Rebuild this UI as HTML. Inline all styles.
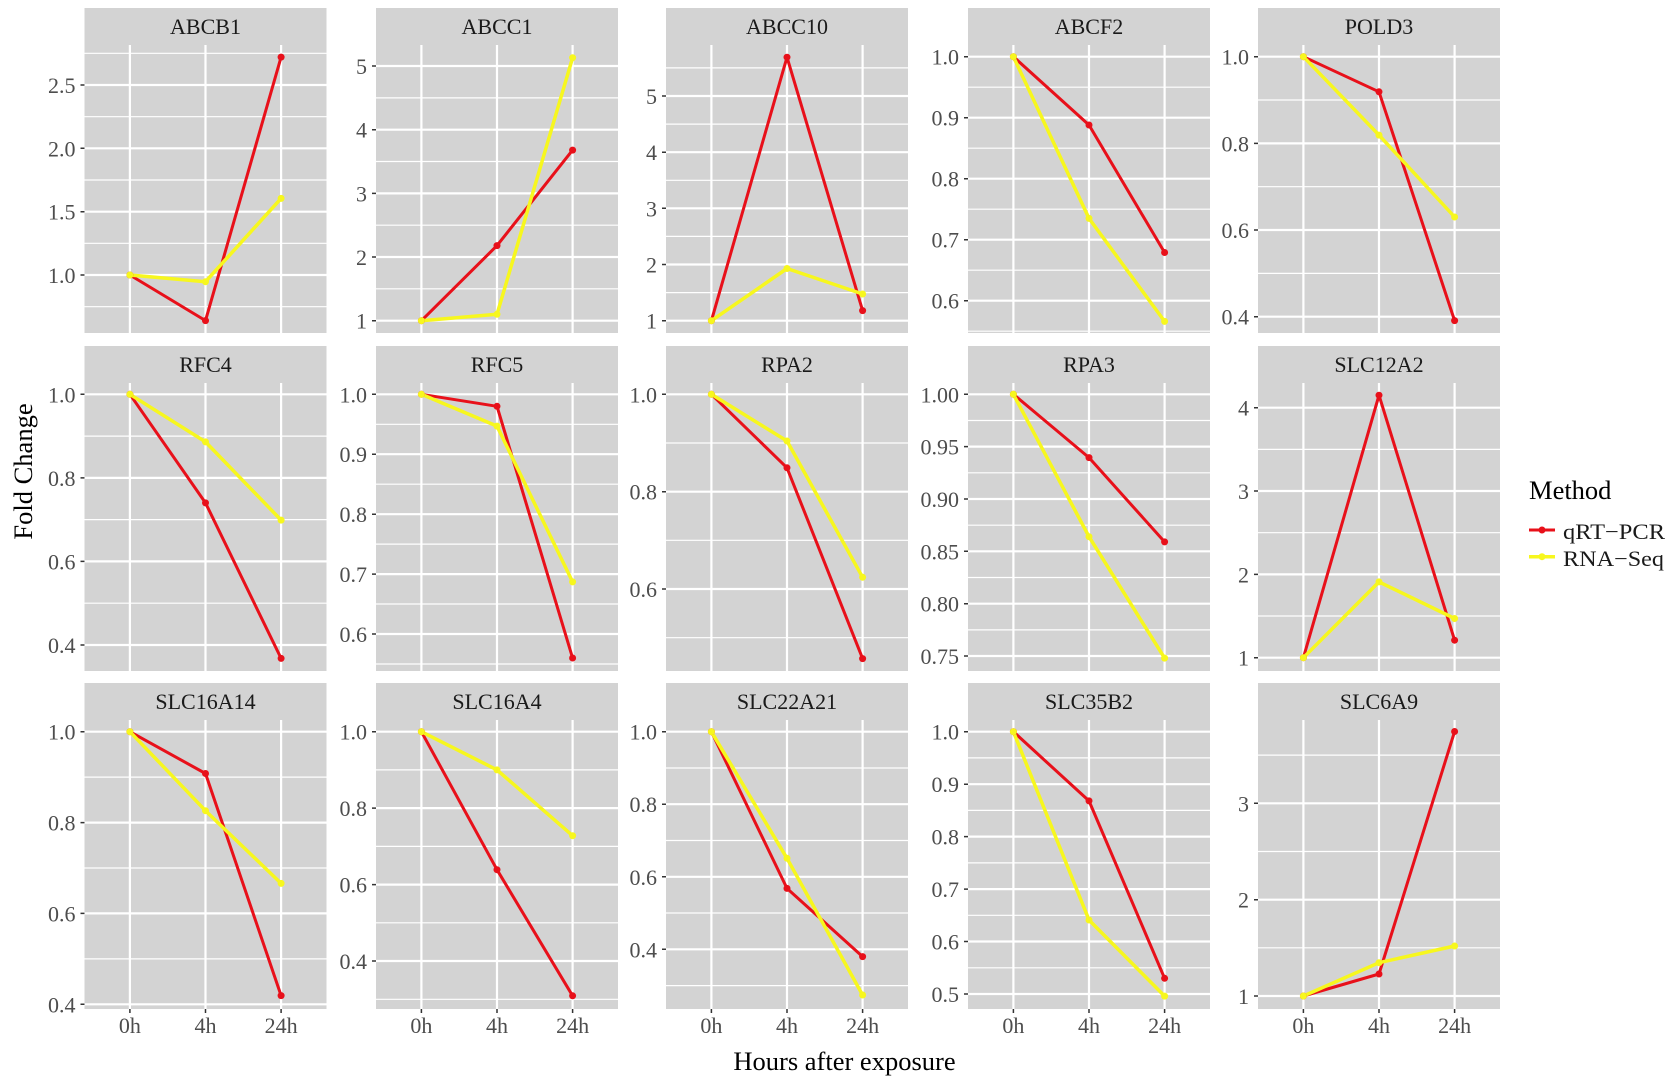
<!DOCTYPE html>
<html><head><meta charset="utf-8"><style>
html,body{margin:0;padding:0;background:#fff;}
svg{display:block;}
.bg{fill:#d3d3d3}
.mn{stroke:#fff;stroke-width:1.2;fill:none}
.mj{stroke:#fff;stroke-width:2.2;fill:none}
.tk{stroke:#333;stroke-width:1.5;fill:none}
.tl{font-family:"Liberation Serif",serif;font-size:22px;fill:#4d4d4d;text-anchor:end}
.xl{font-family:"Liberation Serif",serif;font-size:22px;fill:#4d4d4d;text-anchor:middle}
.st{font-family:"Liberation Serif",serif;font-size:22px;fill:#1a1a1a;text-anchor:middle}
.ti{font-family:"Liberation Serif",serif;font-size:26.5px;fill:#000}
.r{stroke:#e8101a;stroke-width:3;fill:none;stroke-linejoin:round}
.y{stroke:#f7f71e;stroke-width:3.5;fill:none;stroke-linejoin:round}
.rp{fill:#e8101a}.yp{fill:#f7f71e}
</style></head><body>
<svg width="1677" height="1082" viewBox="0 0 1677 1082" xmlns="http://www.w3.org/2000/svg">
<rect width="1677" height="1082" fill="#fff"/>

<!-- Panel 1 ABCB1 -->
<g transform="translate(84.5,0)">
<rect class="bg" x="0" y="8" width="242" height="325"/>
<path class="mn" d="M0 306.7H242M0 243.3H242M0 180H242M0 116.7H242M0 53.3H242"/>
<path class="mj" d="M0 275H242M0 211.7H242M0 148.3H242M0 85H242"/>
<path class="mj" d="M45.4 45V333M121 45V333M196.6 45V333"/>
<path class="tk" d="M-4 275H0M-4 211.7H0M-4 148.3H0M-4 85H0"/>
<text class="tl" x="-9" y="283">1.0</text><text class="tl" x="-9" y="219.7">1.5</text><text class="tl" x="-9" y="156.3">2.0</text><text class="tl" x="-9" y="93">2.5</text>
<text class="st" x="121" y="34">ABCB1</text>
<polyline class="r" points="45.4,275 121,320.6 196.6,57.1"/>
<polyline class="y" points="45.4,275 121,281.7 196.6,198.4"/>
<circle class="rp" cx="45.4" cy="275" r="3.5"/><circle class="rp" cx="121" cy="320.6" r="3.5"/><circle class="rp" cx="196.6" cy="57.1" r="3.5"/>
<circle class="yp" cx="45.4" cy="275" r="3.5"/><circle class="yp" cx="121" cy="281.7" r="3.5"/><circle class="yp" cx="196.6" cy="198.4" r="3.5"/>
</g>

<!-- Panel 2 ABCC1 -->
<g transform="translate(376,0)">
<rect class="bg" x="0" y="8" width="242" height="325"/>
<path class="mn" d="M0 288.8H242M0 225.2H242M0 161.5H242M0 97.9H242"/>
<path class="mj" d="M0 320.7H242M0 257H242M0 193.4H242M0 129.7H242M0 66H242"/>
<path class="mj" d="M45.4 45V333M121 45V333M196.6 45V333"/>
<path class="tk" d="M-4 320.7H0M-4 257H0M-4 193.4H0M-4 129.7H0M-4 66H0"/>
<text class="tl" x="-9" y="328.7">1</text><text class="tl" x="-9" y="265">2</text><text class="tl" x="-9" y="201.4">3</text><text class="tl" x="-9" y="137.7">4</text><text class="tl" x="-9" y="74">5</text>
<text class="st" x="121" y="34">ABCC1</text>
<polyline class="r" points="45.4,320.7 121,245.6 196.6,150.1"/>
<polyline class="y" points="45.4,320.7 121,314.3 196.6,57.7"/>
<circle class="rp" cx="45.4" cy="320.7" r="3.5"/><circle class="rp" cx="121" cy="245.6" r="3.5"/><circle class="rp" cx="196.6" cy="150.1" r="3.5"/>
<circle class="yp" cx="45.4" cy="320.7" r="3.5"/><circle class="yp" cx="121" cy="314.3" r="3.5"/><circle class="yp" cx="196.6" cy="57.7" r="3.5"/>
</g>

<!-- Panel 3 ABCC10 -->
<g transform="translate(666,0)">
<rect class="bg" x="0" y="8" width="242" height="325"/>
<path class="mn" d="M0 292.6H242M0 236.4H242M0 180.3H242M0 124.1H242M0 67.9H242"/>
<path class="mj" d="M0 320.7H242M0 264.5H242M0 208.3H242M0 152.2H242M0 96H242"/>
<path class="mj" d="M45.4 45V333M121 45V333M196.6 45V333"/>
<path class="tk" d="M-4 320.7H0M-4 264.5H0M-4 208.3H0M-4 152.2H0M-4 96H0"/>
<text class="tl" x="-9" y="328.7">1</text><text class="tl" x="-9" y="272.5">2</text><text class="tl" x="-9" y="216.3">3</text><text class="tl" x="-9" y="160.2">4</text><text class="tl" x="-9" y="104">5</text>
<text class="st" x="121" y="34">ABCC10</text>
<polyline class="r" points="45.4,320.7 121,57.2 196.6,310.6"/>
<polyline class="y" points="45.4,320.7 121,268.5 196.6,294"/>
<circle class="rp" cx="45.4" cy="320.7" r="3.5"/><circle class="rp" cx="121" cy="57.2" r="3.5"/><circle class="rp" cx="196.6" cy="310.6" r="3.5"/>
<circle class="yp" cx="45.4" cy="320.7" r="3.5"/><circle class="yp" cx="121" cy="268.5" r="3.5"/><circle class="yp" cx="196.6" cy="294" r="3.5"/>
</g>

<!-- Panel 4 ABCF2 -->
<g transform="translate(968,0)">
<rect class="bg" x="0" y="8" width="242" height="325"/>
<path class="mn" d="M0 87.2H242M0 148.2H242M0 209.2H242M0 270.2H242M0 331.2H242"/>
<path class="mj" d="M0 56.7H242M0 117.7H242M0 178.7H242M0 239.7H242M0 300.7H242"/>
<path class="mj" d="M45.4 45V333M121 45V333M196.6 45V333"/>
<path class="tk" d="M-4 56.7H0M-4 117.7H0M-4 178.7H0M-4 239.7H0M-4 300.7H0"/>
<text class="tl" x="-9" y="64.7">1.0</text><text class="tl" x="-9" y="125.7">0.9</text><text class="tl" x="-9" y="186.7">0.8</text><text class="tl" x="-9" y="247.7">0.7</text><text class="tl" x="-9" y="308.7">0.6</text>
<text class="st" x="121" y="34">ABCF2</text>
<polyline class="r" points="45.4,56.7 121,125 196.6,252.5"/>
<polyline class="y" points="45.4,56.7 121,218.4 196.6,321.4"/>
<circle class="rp" cx="45.4" cy="56.7" r="3.5"/><circle class="rp" cx="121" cy="125" r="3.5"/><circle class="rp" cx="196.6" cy="252.5" r="3.5"/>
<circle class="yp" cx="45.4" cy="56.7" r="3.5"/><circle class="yp" cx="121" cy="218.4" r="3.5"/><circle class="yp" cx="196.6" cy="321.4" r="3.5"/>
</g>

<!-- Panel 5 POLD3 -->
<g transform="translate(1258,0)">
<rect class="bg" x="0" y="8" width="242" height="325"/>
<path class="mn" d="M0 100H242M0 186.7H242M0 273.4H242"/>
<path class="mj" d="M0 56.7H242M0 143.4H242M0 230H242M0 316.7H242"/>
<path class="mj" d="M45.4 45V333M121 45V333M196.6 45V333"/>
<path class="tk" d="M-4 56.7H0M-4 143.4H0M-4 230H0M-4 316.7H0"/>
<text class="tl" x="-9" y="64.7">1.0</text><text class="tl" x="-9" y="151.4">0.8</text><text class="tl" x="-9" y="238">0.6</text><text class="tl" x="-9" y="324.7">0.4</text>
<text class="st" x="121" y="34">POLD3</text>
<polyline class="r" points="45.4,56.7 121,91.8 196.6,320.6"/>
<polyline class="y" points="45.4,56.7 121,135.1 196.6,217"/>
<circle class="rp" cx="45.4" cy="56.7" r="3.5"/><circle class="rp" cx="121" cy="91.8" r="3.5"/><circle class="rp" cx="196.6" cy="320.6" r="3.5"/>
<circle class="yp" cx="45.4" cy="56.7" r="3.5"/><circle class="yp" cx="121" cy="135.1" r="3.5"/><circle class="yp" cx="196.6" cy="217" r="3.5"/>
</g>

<!-- Panel 6 RFC4 -->
<g transform="translate(84.5,0)">
<rect class="bg" x="0" y="346" width="242" height="325"/>
<path class="mn" d="M0 436.1H242M0 519.6H242M0 603.2H242"/>
<path class="mj" d="M0 394.3H242M0 477.9H242M0 561.4H242M0 645H242"/>
<path class="mj" d="M45.4 383V671M121 383V671M196.6 383V671"/>
<path class="tk" d="M-4 394.3H0M-4 477.9H0M-4 561.4H0M-4 645H0"/>
<text class="tl" x="-9" y="402.3">1.0</text><text class="tl" x="-9" y="485.9">0.8</text><text class="tl" x="-9" y="569.4">0.6</text><text class="tl" x="-9" y="653">0.4</text>
<text class="st" x="121" y="372">RFC4</text>
<polyline class="r" points="45.4,394.3 121,502.9 196.6,658.4"/>
<polyline class="y" points="45.4,394.3 121,441.9 196.6,520.1"/>
<circle class="rp" cx="45.4" cy="394.3" r="3.5"/><circle class="rp" cx="121" cy="502.9" r="3.5"/><circle class="rp" cx="196.6" cy="658.4" r="3.5"/>
<circle class="yp" cx="45.4" cy="394.3" r="3.5"/><circle class="yp" cx="121" cy="441.9" r="3.5"/><circle class="yp" cx="196.6" cy="520.1" r="3.5"/>
</g>

<!-- Panel 7 RFC5 -->
<g transform="translate(376,0)">
<rect class="bg" x="0" y="346" width="242" height="325"/>
<path class="mn" d="M0 424.3H242M0 484.2H242M0 544.1H242M0 604H242M0 664H242"/>
<path class="mj" d="M0 394.3H242M0 454.2H242M0 514.2H242M0 574.1H242M0 634H242"/>
<path class="mj" d="M45.4 383V671M121 383V671M196.6 383V671"/>
<path class="tk" d="M-4 394.3H0M-4 454.2H0M-4 514.2H0M-4 574.1H0M-4 634H0"/>
<text class="tl" x="-9" y="402.3">1.0</text><text class="tl" x="-9" y="462.2">0.9</text><text class="tl" x="-9" y="522.2">0.8</text><text class="tl" x="-9" y="582.1">0.7</text><text class="tl" x="-9" y="642">0.6</text>
<text class="st" x="121" y="372">RFC5</text>
<polyline class="r" points="45.4,394.3 121,406.3 196.6,658"/>
<polyline class="y" points="45.4,394.3 121,426.1 196.6,581.9"/>
<circle class="rp" cx="45.4" cy="394.3" r="3.5"/><circle class="rp" cx="121" cy="406.3" r="3.5"/><circle class="rp" cx="196.6" cy="658" r="3.5"/>
<circle class="yp" cx="45.4" cy="394.3" r="3.5"/><circle class="yp" cx="121" cy="426.1" r="3.5"/><circle class="yp" cx="196.6" cy="581.9" r="3.5"/>
</g>

<!-- Panel 8 RPA2 -->
<g transform="translate(666,0)">
<rect class="bg" x="0" y="346" width="242" height="325"/>
<path class="mn" d="M0 443H242M0 540.3H242M0 637.7H242"/>
<path class="mj" d="M0 394.3H242M0 491.7H242M0 589H242"/>
<path class="mj" d="M45.4 383V671M121 383V671M196.6 383V671"/>
<path class="tk" d="M-4 394.3H0M-4 491.7H0M-4 589H0"/>
<text class="tl" x="-9" y="402.3">1.0</text><text class="tl" x="-9" y="499.7">0.8</text><text class="tl" x="-9" y="597">0.6</text>
<text class="st" x="121" y="372">RPA2</text>
<polyline class="r" points="45.4,394.3 121,467.8 196.6,658.6"/>
<polyline class="y" points="45.4,394.3 121,441 196.6,577.3"/>
<circle class="rp" cx="45.4" cy="394.3" r="3.5"/><circle class="rp" cx="121" cy="467.8" r="3.5"/><circle class="rp" cx="196.6" cy="658.6" r="3.5"/>
<circle class="yp" cx="45.4" cy="394.3" r="3.5"/><circle class="yp" cx="121" cy="441" r="3.5"/><circle class="yp" cx="196.6" cy="577.3" r="3.5"/>
</g>

<!-- Panel 9 RPA3 -->
<g transform="translate(968,0)">
<rect class="bg" x="0" y="346" width="242" height="325"/>
<path class="mn" d="M0 420.5H242M0 472.8H242M0 525.2H242M0 577.5H242M0 629.9H242"/>
<path class="mj" d="M0 394.3H242M0 446.6H242M0 499H242M0 551.3H242M0 603.7H242M0 656H242"/>
<path class="mj" d="M45.4 383V671M121 383V671M196.6 383V671"/>
<path class="tk" d="M-4 394.3H0M-4 446.6H0M-4 499H0M-4 551.3H0M-4 603.7H0M-4 656H0"/>
<text class="tl" x="-9" y="402.3">1.00</text><text class="tl" x="-9" y="454.6">0.95</text><text class="tl" x="-9" y="507">0.90</text><text class="tl" x="-9" y="559.3">0.85</text><text class="tl" x="-9" y="611.7">0.80</text><text class="tl" x="-9" y="664">0.75</text>
<text class="st" x="121" y="372">RPA3</text>
<polyline class="r" points="45.4,394.3 121,457.6 196.6,541.9"/>
<polyline class="y" points="45.4,394.3 121,536.7 196.6,658.1"/>
<circle class="rp" cx="45.4" cy="394.3" r="3.5"/><circle class="rp" cx="121" cy="457.6" r="3.5"/><circle class="rp" cx="196.6" cy="541.9" r="3.5"/>
<circle class="yp" cx="45.4" cy="394.3" r="3.5"/><circle class="yp" cx="121" cy="536.7" r="3.5"/><circle class="yp" cx="196.6" cy="658.1" r="3.5"/>
</g>

<!-- Panel 10 SLC12A2 -->
<g transform="translate(1258,0)">
<rect class="bg" x="0" y="346" width="242" height="325"/>
<path class="mn" d="M0 616H242M0 532.7H242M0 449.4H242"/>
<path class="mj" d="M0 657.7H242M0 574.4H242M0 491H242M0 407.7H242"/>
<path class="mj" d="M45.4 383V671M121 383V671M196.6 383V671"/>
<path class="tk" d="M-4 657.7H0M-4 574.4H0M-4 491H0M-4 407.7H0"/>
<text class="tl" x="-9" y="665.7">1</text><text class="tl" x="-9" y="582.4">2</text><text class="tl" x="-9" y="499">3</text><text class="tl" x="-9" y="415.7">4</text>
<text class="st" x="121" y="372">SLC12A2</text>
<polyline class="r" points="45.4,657.7 121,395.2 196.6,640.2"/>
<polyline class="y" points="45.4,657.7 121,581.9 196.6,618.5"/>
<circle class="rp" cx="45.4" cy="657.7" r="3.5"/><circle class="rp" cx="121" cy="395.2" r="3.5"/><circle class="rp" cx="196.6" cy="640.2" r="3.5"/>
<circle class="yp" cx="45.4" cy="657.7" r="3.5"/><circle class="yp" cx="121" cy="581.9" r="3.5"/><circle class="yp" cx="196.6" cy="618.5" r="3.5"/>
</g>

<!-- Panel 11 SLC16A14 -->
<g transform="translate(84.5,0)">
<rect class="bg" x="0" y="683" width="242" height="326"/>
<path class="mn" d="M0 777.1H242M0 868H242M0 958.9H242"/>
<path class="mj" d="M0 731.7H242M0 822.6H242M0 913.4H242M0 1004.3H242"/>
<path class="mj" d="M45.4 720V1009M121 720V1009M196.6 720V1009"/>
<path class="tk" d="M-4 731.7H0M-4 822.6H0M-4 913.4H0M-4 1004.3H0M45.4 1009V1013M121 1009V1013M196.6 1009V1013"/>
<text class="tl" x="-9" y="739.7">1.0</text><text class="tl" x="-9" y="830.6">0.8</text><text class="tl" x="-9" y="921.4">0.6</text><text class="tl" x="-9" y="1012.3">0.4</text>
<text class="st" x="121" y="709">SLC16A14</text>
<text class="xl" x="45.4" y="1033">0h</text><text class="xl" x="121" y="1033">4h</text><text class="xl" x="196.6" y="1033">24h</text>
<polyline class="r" points="45.4,731.7 121,773.5 196.6,995.6"/>
<polyline class="y" points="45.4,731.7 121,810.7 196.6,883.4"/>
<circle class="rp" cx="45.4" cy="731.7" r="3.5"/><circle class="rp" cx="121" cy="773.5" r="3.5"/><circle class="rp" cx="196.6" cy="995.6" r="3.5"/>
<circle class="yp" cx="45.4" cy="731.7" r="3.5"/><circle class="yp" cx="121" cy="810.7" r="3.5"/><circle class="yp" cx="196.6" cy="883.4" r="3.5"/>
</g>

<!-- Panel 12 SLC16A4 -->
<g transform="translate(376,0)">
<rect class="bg" x="0" y="683" width="242" height="326"/>
<path class="mn" d="M0 769.9H242M0 846.4H242M0 922.8H242M0 999.3H242"/>
<path class="mj" d="M0 731.7H242M0 808.1H242M0 884.6H242M0 961H242"/>
<path class="mj" d="M45.4 720V1009M121 720V1009M196.6 720V1009"/>
<path class="tk" d="M-4 731.7H0M-4 808.1H0M-4 884.6H0M-4 961H0M45.4 1009V1013M121 1009V1013M196.6 1009V1013"/>
<text class="tl" x="-9" y="739.7">1.0</text><text class="tl" x="-9" y="816.1">0.8</text><text class="tl" x="-9" y="892.6">0.6</text><text class="tl" x="-9" y="969">0.4</text>
<text class="st" x="121" y="709">SLC16A4</text>
<text class="xl" x="45.4" y="1033">0h</text><text class="xl" x="121" y="1033">4h</text><text class="xl" x="196.6" y="1033">24h</text>
<polyline class="r" points="45.4,731.7 121,869.7 196.6,995.8"/>
<polyline class="y" points="45.4,731.7 121,769.9 196.6,835.7"/>
<circle class="rp" cx="45.4" cy="731.7" r="3.5"/><circle class="rp" cx="121" cy="869.7" r="3.5"/><circle class="rp" cx="196.6" cy="995.8" r="3.5"/>
<circle class="yp" cx="45.4" cy="731.7" r="3.5"/><circle class="yp" cx="121" cy="769.9" r="3.5"/><circle class="yp" cx="196.6" cy="835.7" r="3.5"/>
</g>

<!-- Panel 13 SLC22A21 -->
<g transform="translate(666,0)">
<rect class="bg" x="0" y="683" width="242" height="326"/>
<path class="mn" d="M0 768H242M0 840.5H242M0 913H242M0 985.6H242"/>
<path class="mj" d="M0 731.7H242M0 804.2H242M0 876.8H242M0 949.3H242"/>
<path class="mj" d="M45.4 720V1009M121 720V1009M196.6 720V1009"/>
<path class="tk" d="M-4 731.7H0M-4 804.2H0M-4 876.8H0M-4 949.3H0M45.4 1009V1013M121 1009V1013M196.6 1009V1013"/>
<text class="tl" x="-9" y="739.7">1.0</text><text class="tl" x="-9" y="812.2">0.8</text><text class="tl" x="-9" y="884.8">0.6</text><text class="tl" x="-9" y="957.3">0.4</text>
<text class="st" x="121" y="709">SLC22A21</text>
<text class="xl" x="45.4" y="1033">0h</text><text class="xl" x="121" y="1033">4h</text><text class="xl" x="196.6" y="1033">24h</text>
<polyline class="r" points="45.4,731.7 121,888.4 196.6,956.6"/>
<polyline class="y" points="45.4,731.7 121,858.3 196.6,995"/>
<circle class="rp" cx="45.4" cy="731.7" r="3.5"/><circle class="rp" cx="121" cy="888.4" r="3.5"/><circle class="rp" cx="196.6" cy="956.6" r="3.5"/>
<circle class="yp" cx="45.4" cy="731.7" r="3.5"/><circle class="yp" cx="121" cy="858.3" r="3.5"/><circle class="yp" cx="196.6" cy="995" r="3.5"/>
</g>

<!-- Panel 14 SLC35B2 -->
<g transform="translate(968,0)">
<rect class="bg" x="0" y="683" width="242" height="326"/>
<path class="mn" d="M0 757.9H242M0 810.4H242M0 862.9H242M0 915.3H242M0 967.8H242"/>
<path class="mj" d="M0 731.7H242M0 784.2H242M0 836.6H242M0 889.1H242M0 941.5H242M0 994H242"/>
<path class="mj" d="M45.4 720V1009M121 720V1009M196.6 720V1009"/>
<path class="tk" d="M-4 731.7H0M-4 784.2H0M-4 836.6H0M-4 889.1H0M-4 941.5H0M-4 994H0M45.4 1009V1013M121 1009V1013M196.6 1009V1013"/>
<text class="tl" x="-9" y="739.7">1.0</text><text class="tl" x="-9" y="792.2">0.9</text><text class="tl" x="-9" y="844.6">0.8</text><text class="tl" x="-9" y="897.1">0.7</text><text class="tl" x="-9" y="949.5">0.6</text><text class="tl" x="-9" y="1002">0.5</text>
<text class="st" x="121" y="709">SLC35B2</text>
<text class="xl" x="45.4" y="1033">0h</text><text class="xl" x="121" y="1033">4h</text><text class="xl" x="196.6" y="1033">24h</text>
<polyline class="r" points="45.4,731.7 121,800.9 196.6,978.3"/>
<polyline class="y" points="45.4,731.7 121,920 196.6,996.1"/>
<circle class="rp" cx="45.4" cy="731.7" r="3.5"/><circle class="rp" cx="121" cy="800.9" r="3.5"/><circle class="rp" cx="196.6" cy="978.3" r="3.5"/>
<circle class="yp" cx="45.4" cy="731.7" r="3.5"/><circle class="yp" cx="121" cy="920" r="3.5"/><circle class="yp" cx="196.6" cy="996.1" r="3.5"/>
</g>

<!-- Panel 15 SLC6A9 -->
<g transform="translate(1258,0)">
<rect class="bg" x="0" y="683" width="242" height="326"/>
<path class="mn" d="M0 947.8H242M0 851.5H242M0 755.1H242"/>
<path class="mj" d="M0 996H242M0 899.7H242M0 803.3H242"/>
<path class="mj" d="M45.4 720V1009M121 720V1009M196.6 720V1009"/>
<path class="tk" d="M-4 996H0M-4 899.7H0M-4 803.3H0M45.4 1009V1013M121 1009V1013M196.6 1009V1013"/>
<text class="tl" x="-9" y="1004">1</text><text class="tl" x="-9" y="907.7">2</text><text class="tl" x="-9" y="811.3">3</text>
<text class="st" x="121" y="709">SLC6A9</text>
<text class="xl" x="45.4" y="1033">0h</text><text class="xl" x="121" y="1033">4h</text><text class="xl" x="196.6" y="1033">24h</text>
<polyline class="r" points="45.4,996 121,974 196.6,731.5"/>
<polyline class="y" points="45.4,996 121,962.7 196.6,946"/>
<circle class="rp" cx="45.4" cy="996" r="3.5"/><circle class="rp" cx="121" cy="974" r="3.5"/><circle class="rp" cx="196.6" cy="731.5" r="3.5"/>
<circle class="yp" cx="45.4" cy="996" r="3.5"/><circle class="yp" cx="121" cy="962.7" r="3.5"/><circle class="yp" cx="196.6" cy="946" r="3.5"/>
</g>

<!-- Axis titles -->
<text class="ti" transform="translate(32,471.5) rotate(-90)" text-anchor="middle">Fold Change</text>
<text class="ti" x="844.5" y="1070" text-anchor="middle">Hours after exposure</text>

<!-- Legend -->
<text class="ti" x="1529" y="499">Method</text>
<line x1="1529" y1="530" x2="1555" y2="530" stroke="#e8101a" stroke-width="3"/>
<circle class="rp" cx="1542" cy="530" r="3.5"/>
<text x="1563" y="539" font-family="Liberation Serif, serif" font-size="22" fill="#1a1a1a" textLength="102" lengthAdjust="spacingAndGlyphs">qRT−PCR</text>
<line x1="1529" y1="556.7" x2="1555" y2="556.7" stroke="#f7f71e" stroke-width="3.5"/>
<circle class="yp" cx="1542" cy="556.7" r="3.5"/>
<text x="1563" y="566" font-family="Liberation Serif, serif" font-size="22" fill="#1a1a1a" textLength="101" lengthAdjust="spacingAndGlyphs">RNA−Seq</text>
</svg>
</body></html>
